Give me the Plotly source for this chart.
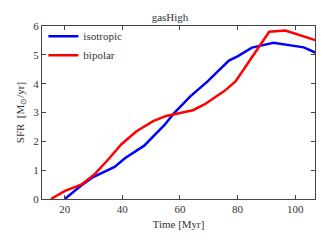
import plotly.graph_objects as go

iso_t = [20, 25.5, 29.5, 37.3, 41, 47.6, 51, 54.5, 58, 63.5, 69.6, 77, 80, 85, 92.5, 99.4, 103, 107]
iso_sfr = [0, 0.45, 0.74, 1.11, 1.42, 1.85, 2.2, 2.55, 2.98, 3.55, 4.08, 4.8, 4.95, 5.25, 5.42, 5.33, 5.26, 5.08]
bip_t = [15.2, 20.1, 25.9, 30.4, 35.1, 39.6, 44.8, 50.7, 55.2, 58.5, 64.5, 68.5, 71.7, 75.5, 79.3, 85, 91, 96.6, 102.4, 107]
bip_sfr = [0, 0.28, 0.51, 0.86, 1.37, 1.89, 2.34, 2.7, 2.88, 2.95, 3.08, 3.28, 3.5, 3.75, 4.08, 4.9, 5.8, 5.84, 5.66, 5.51]

font = dict(family="Liberation Serif", size=11, color="#333")

fig = go.Figure()
fig.add_trace(go.Scatter(x=iso_t, y=iso_sfr, mode="lines", name="isotropic",
                         line=dict(color="#0000ff", width=2.5)))
fig.add_trace(go.Scatter(x=bip_t, y=bip_sfr, mode="lines", name="bipolar",
                         line=dict(color="#ff0000", width=2.5)))

axis_common = dict(showgrid=False, zeroline=False, ticks="inside", ticklen=4,
                   tickcolor="#444", linecolor="#444", linewidth=1, mirror="ticks",
                   showline=True, tickfont=font)
fig.update_layout(
    width=324, height=241,
    margin=dict(l=32, r=17, t=16, b=50),
    paper_bgcolor="white", plot_bgcolor="white",
    font=font,
    title=dict(text="gasHigh", x=0.5, xanchor="center", y=0.98, yanchor="top",
               font=font),
    xaxis=dict(range=[12.1, 106.9], tickvals=[20, 40, 60, 80, 100],
               title=dict(text="Time [Myr]", font=font, standoff=6), **axis_common),
    yaxis=dict(range=[0, 6], tickvals=[0, 1, 2, 3, 4, 5, 6],
               title=dict(text="SFR  [M<sub>⊙</sub>/yr]", font=font, standoff=6), **axis_common),
    legend=dict(x=0.005, y=1.025, xanchor="left", yanchor="top", bgcolor="rgba(0,0,0,0)",
                font=dict(family="Liberation Serif", size=11, color="#333"),
                itemwidth=30, tracegroupgap=0),
    showlegend=True,
)
fig.write_html("out.html")
